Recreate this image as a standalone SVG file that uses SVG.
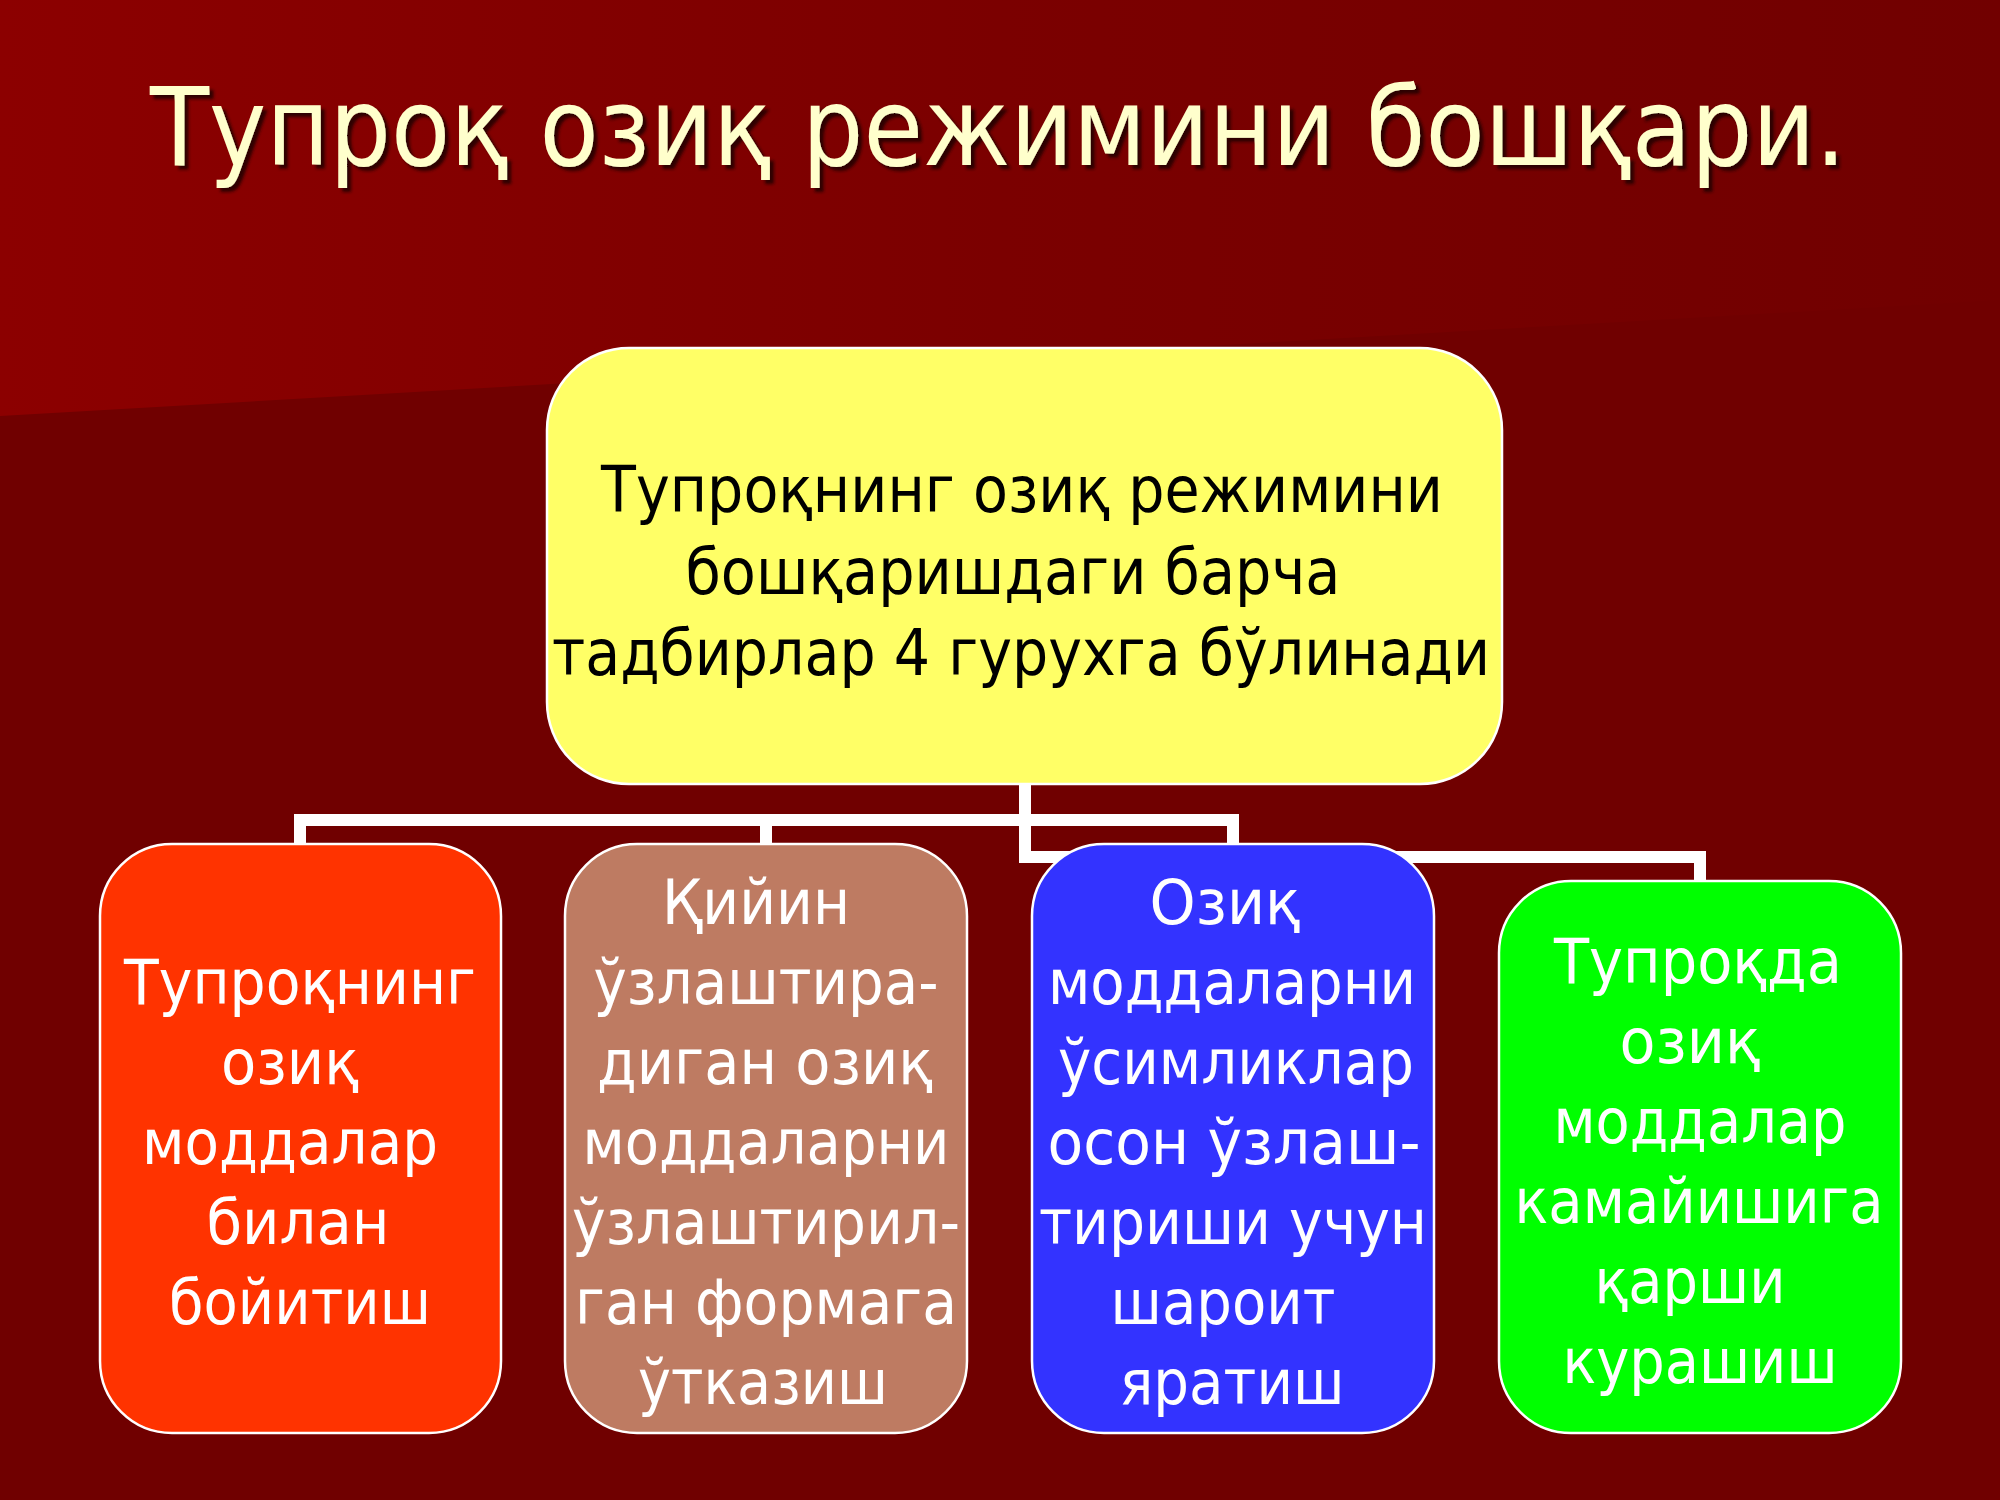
<svg xmlns="http://www.w3.org/2000/svg" width="2000" height="1500" viewBox="0 0 2000 1500">
<defs>
<linearGradient id="bgTop" x1="0" y1="0" x2="1" y2="0">
<stop offset="0" stop-color="#8c0000"/>
<stop offset="0.5" stop-color="#7b0000"/>
<stop offset="1" stop-color="#710000"/>
</linearGradient>
<filter id="shadow" x="0" y="0" width="2000" height="300" filterUnits="userSpaceOnUse">
<feDropShadow dx="4" dy="4" stdDeviation="1.5" flood-color="#1a0000" flood-opacity="0.85"/>
</filter>
<style>
.box{stroke:#ffffff;stroke-width:2.5}
.t{font-family:"DejaVu Sans","Liberation Sans",sans-serif;text-anchor:middle}
.w{fill:#ffffff;font-size:62px}
.k{fill:#000000;font-size:64px}
.title{fill:#ffffcc;font-size:108px}
</style>
</defs>
<g id="background">
<rect x="0" y="0" width="2000" height="1500" fill="#700000"/>
<polygon points="0,0 2000,0 2000,300 0,416" fill="url(#bgTop)"/>
</g>
<g id="title" filter="url(#shadow)">
<text class="t title" x="998" y="165" textLength="1696" lengthAdjust="spacingAndGlyphs">Тупроқ озиқ режимини бошқари.</text>
</g>
<g id="connectors" fill="none" stroke="#ffffff" stroke-width="12" stroke-linejoin="miter">
<path d="M1025,785 V820 H300 V846"/>
<path d="M766,820 V846"/>
<path d="M1025,820 H1233 V846"/>
<path d="M1025,785 V857 H1700 V883"/>
</g>
<g id="node-root">
<rect class="box" x="547" y="348" width="955" height="436" rx="82" ry="82" fill="#ffff66"/>
<text class="t k" x="1022" y="512" textLength="842" lengthAdjust="spacingAndGlyphs">Тупроқнинг озиқ режимини</text>
<text class="t k" x="1013" y="594" textLength="655" lengthAdjust="spacingAndGlyphs">бошқаришдаги барча</text>
<text class="t k" x="1021" y="675" textLength="938" lengthAdjust="spacingAndGlyphs">тадбирлар 4 гурухга бўлинади</text>
</g>
<g id="node-1">
<rect class="box" x="100" y="844" width="401" height="589" rx="72" ry="72" fill="#ff3300"/>
<text class="t w" x="300" y="1004" textLength="352" lengthAdjust="spacingAndGlyphs">Тупроқнинг</text>
<text class="t w" x="290" y="1084" textLength="138" lengthAdjust="spacingAndGlyphs">озиқ</text>
<text class="t w" x="290" y="1164" textLength="296" lengthAdjust="spacingAndGlyphs">моддалар</text>
<text class="t w" x="298" y="1244" textLength="183" lengthAdjust="spacingAndGlyphs">билан</text>
<text class="t w" x="300" y="1324" textLength="262" lengthAdjust="spacingAndGlyphs">бойитиш</text>
</g>
<g id="node-2">
<rect class="box" x="565" y="844" width="402" height="589" rx="72" ry="72" fill="#be7b62"/>
<text class="t w" x="756" y="924" textLength="188" lengthAdjust="spacingAndGlyphs">Қийин</text>
<text class="t w" x="766" y="1004" textLength="345" lengthAdjust="spacingAndGlyphs">ўзлаштира-</text>
<text class="t w" x="765" y="1084" textLength="336" lengthAdjust="spacingAndGlyphs">диган озиқ</text>
<text class="t w" x="766" y="1164" textLength="367" lengthAdjust="spacingAndGlyphs">моддаларни</text>
<text class="t w" x="766" y="1244" textLength="388" lengthAdjust="spacingAndGlyphs">ўзлаштирил-</text>
<text class="t w" x="766" y="1324" textLength="382" lengthAdjust="spacingAndGlyphs">ган формага</text>
<text class="t w" x="763" y="1404" textLength="250" lengthAdjust="spacingAndGlyphs">ўтказиш</text>
</g>
<g id="node-3">
<rect class="box" x="1032" y="844" width="402" height="589" rx="72" ry="72" fill="#3333ff"/>
<text class="t w" x="1225" y="924" textLength="151" lengthAdjust="spacingAndGlyphs">Озиқ</text>
<text class="t w" x="1232" y="1004" textLength="368" lengthAdjust="spacingAndGlyphs">моддаларни</text>
<text class="t w" x="1236" y="1084" textLength="356" lengthAdjust="spacingAndGlyphs">ўсимликлар</text>
<text class="t w" x="1234" y="1164" textLength="373" lengthAdjust="spacingAndGlyphs">осон ўзлаш-</text>
<text class="t w" x="1233" y="1244" textLength="388" lengthAdjust="spacingAndGlyphs">тириши учун</text>
<text class="t w" x="1223" y="1324" textLength="225" lengthAdjust="spacingAndGlyphs">шароит</text>
<text class="t w" x="1232" y="1404" textLength="225" lengthAdjust="spacingAndGlyphs">яратиш</text>
</g>
<g id="node-4">
<rect class="box" x="1499" y="881" width="402" height="552" rx="72" ry="72" fill="#00ff00"/>
<text class="t w" x="1698" y="983" textLength="288" lengthAdjust="spacingAndGlyphs">Тупроқда</text>
<text class="t w" x="1690" y="1063" textLength="141" lengthAdjust="spacingAndGlyphs">озиқ</text>
<text class="t w" x="1700" y="1143" textLength="293" lengthAdjust="spacingAndGlyphs">моддалар</text>
<text class="t w" x="1699" y="1223" textLength="369" lengthAdjust="spacingAndGlyphs">камайишига</text>
<text class="t w" x="1690" y="1303" textLength="191" lengthAdjust="spacingAndGlyphs">қарши</text>
<text class="t w" x="1700" y="1383" textLength="275" lengthAdjust="spacingAndGlyphs">курашиш</text>
</g>
</svg>
